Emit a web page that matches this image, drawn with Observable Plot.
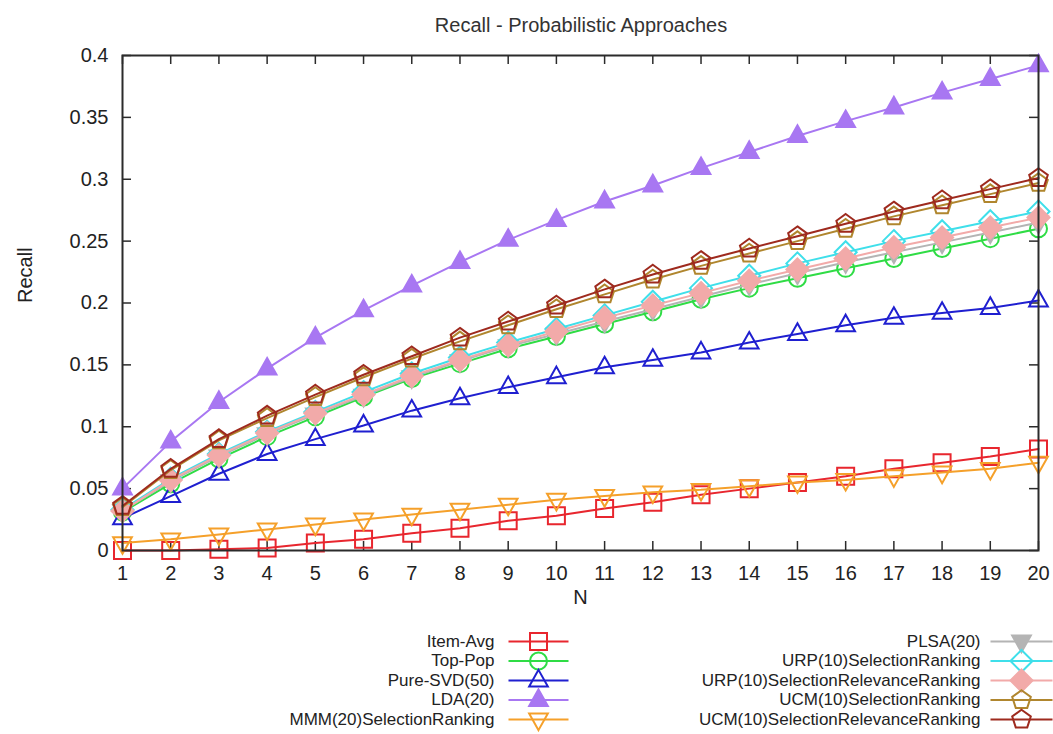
<!DOCTYPE html>
<html><head><meta charset="utf-8">
<script src="https://cdn.jsdelivr.net/npm/d3@7"></script>
<script src="https://cdn.jsdelivr.net/npm/@observablehq/plot@0.6"></script>
<style>
body{margin:0;background:#fff;font-family:"Liberation Sans",Arial,Helvetica,sans-serif;}
#wrap{position:relative;width:1053px;height:734px;overflow:hidden;background:#fff;}
#title{position:absolute;left:0;top:13px;width:1053px;box-sizing:border-box;padding-left:109px;text-align:center;font-size:20px;line-height:24px;color:#333;}
#main{position:absolute;left:0;top:45px;}
#legend{position:absolute;left:0;top:615px;}
</style></head><body>
<div id="wrap"><div id="title">Recall - Probabilistic Approaches</div><div id="main"></div><div id="legend"></div></div>
<script>
// ---- data ----
const N = [1,2,3,4,5,6,7,8,9,10,11,12,13,14,15,16,17,18,19,20];
const yTicks = [0,0.05,0.1,0.15,0.2,0.25,0.3,0.35,0.4];
const seriesNames = ["Item-Avg","Top-Pop","Pure-SVD(50)","LDA(20)","MMM(20)SelectionRanking","PLSA(20)","URP(10)SelectionRanking","URP(10)SelectionRelevanceRanking","UCM(10)SelectionRanking","UCM(10)SelectionRelevanceRanking"];
const itemAvg = [0,0,0.001,0.002,0.006,0.009,0.014,0.018,0.024,0.028,0.034,0.039,0.045,0.05,0.055,0.06,0.066,0.071,0.076,0.082];
const topPop  = [0.031,0.054,0.074,0.092,0.108,0.124,0.139,0.151,0.163,0.173,0.183,0.193,0.203,0.212,0.22,0.228,0.236,0.244,0.252,0.26];
const pureSVD = [0.026,0.044,0.062,0.078,0.09,0.101,0.113,0.123,0.132,0.14,0.148,0.154,0.16,0.168,0.175,0.182,0.188,0.192,0.196,0.202];
const lda     = [0.05,0.088,0.12,0.147,0.172,0.194,0.214,0.233,0.251,0.267,0.282,0.295,0.309,0.322,0.335,0.347,0.358,0.37,0.381,0.392];
const mmm     = [0.006,0.009,0.013,0.017,0.021,0.025,0.029,0.033,0.037,0.041,0.044,0.047,0.049,0.052,0.055,0.057,0.06,0.063,0.066,0.071];
const plsa    = [0.032,0.056,0.076,0.094,0.11,0.125,0.14,0.153,0.165,0.175,0.185,0.195,0.205,0.215,0.224,0.233,0.241,0.249,0.257,0.265];
const urpSel  = [0.033,0.058,0.078,0.096,0.112,0.128,0.143,0.156,0.168,0.179,0.19,0.201,0.212,0.222,0.232,0.241,0.25,0.258,0.266,0.274];
const urpRel  = [0.032,0.057,0.077,0.095,0.111,0.126,0.141,0.154,0.166,0.177,0.188,0.198,0.208,0.218,0.227,0.236,0.245,0.253,0.261,0.269];
const ucmSel  = [0.035,0.065,0.089,0.107,0.124,0.14,0.155,0.169,0.182,0.195,0.207,0.219,0.23,0.24,0.25,0.26,0.27,0.279,0.288,0.297];
const ucmRel  = [0.036,0.066,0.09,0.109,0.126,0.142,0.157,0.172,0.185,0.198,0.211,0.223,0.234,0.244,0.254,0.264,0.274,0.283,0.292,0.301];
const seriesValues = [itemAvg, topPop, pureSVD, lda, mmm, plsa, urpSel, urpRel, ucmSel, ucmRel];

// ---- styles ----
function poly(pts){ return {draw(ctx,size){ const r=Math.sqrt(size/Math.PI); pts.forEach(([px,py],i)=> i?ctx.lineTo(px*r,py*r):ctx.moveTo(px*r,py*r)); ctx.closePath(); }}; }
const SYM = {
  square: poly([[-1,-1],[1,-1],[1,1],[-1,1]]),
  circle: {draw(ctx,size){ const r=Math.sqrt(size/Math.PI); ctx.moveTo(r,0); ctx.arc(0,0,r,0,2*Math.PI); }},
  tri: poly([[0,-1.25],[1.1,0.7],[-1.1,0.7]]),
  triDown: poly([[0,1.25],[1.1,-0.7],[-1.1,-0.7]]),
  diamond: poly([[0,-1.3],[1.3,0],[0,1.3],[-1.3,0]]),
  pentagon: poly(d3.range(5).map(i=>{const a=-Math.PI/2+i*2*Math.PI/5; return [1.15*Math.cos(a),1.15*Math.sin(a)];}))
};
const styles = [
  {color:"#e8262e", sym:"square",  fill:false},
  {color:"#2fdc45", sym:"circle",  fill:false},
  {color:"#1f1fd0", sym:"tri",     fill:false},
  {color:"#a877f2", sym:"tri",     fill:true},
  {color:"#f5a02a", sym:"triDown", fill:false},
  {color:"#b4b4b4", sym:"triDown", fill:true},
  {color:"#3fdfea", sym:"diamond", fill:false},
  {color:"#f2aaa9", sym:"diamond", fill:true},
  {color:"#b0862e", sym:"pentagon",fill:false},
  {color:"#9e2a1e", sym:"pentagon",fill:false}
];

// ---- main chart ----
const W=1053, H=570, mT=10, mB=65, mL=122, mR=15, tick=9;
const fh=H-mT-mB, fw=W-mL-mR;
const axisColor="#2b2b2b";
const marks = [
  Plot.ruleX(N,{x:d=>d, insetTop:fh-tick, stroke:axisColor, strokeWidth:1.5}),
  Plot.ruleX(N,{x:d=>d, insetBottom:fh-tick, stroke:axisColor, strokeWidth:1.5}),
  Plot.ruleY(yTicks,{y:d=>d, insetRight:fw-tick, stroke:axisColor, strokeWidth:1.5}),
  Plot.ruleY(yTicks,{y:d=>d, insetLeft:fw-tick, stroke:axisColor, strokeWidth:1.5}),
  Plot.axisX(N,{tickSize:0, tickPadding:15, tickFormat:d=>String(d), label:null, fill:"#222"}),
  Plot.axisY(yTicks,{tickSize:0, tickPadding:14, tickFormat:d=>String(+d.toFixed(2)), label:null, fill:"#222"}),
  Plot.text(["Recall"],{frameAnchor:"left", dx:-97, rotate:-90, text:d=>d, fill:"#222"}),
  Plot.text(["N"],{frameAnchor:"bottom", dy:53, text:d=>d, fill:"#222"})
];
seriesValues.forEach((vals,si)=>{
  const st=styles[si];
  const rows=N.map((n,i)=>({n, v:vals[i]}));
  marks.push(Plot.line(rows,{x:"n", y:"v", stroke:st.color, strokeWidth:2}));
  marks.push(Plot.dot(rows,{x:"n", y:"v", symbol:SYM[st.sym], r:8.5, stroke:st.color, fill:st.fill?st.color:"none", strokeWidth:2}));
});
marks.push(Plot.frame({stroke:axisColor, strokeWidth:2}));

const chart = Plot.plot({
  width:W, height:H, marginTop:mT, marginBottom:mB, marginLeft:mL, marginRight:mR,
  x:{domain:[1,20], axis:null},
  y:{domain:[0,0.4], axis:null},
  style:{fontSize:"20px", fontFamily:"'Liberation Sans', Arial, Helvetica, sans-serif", background:"#fff", color:"#222"},
  marks
});
document.getElementById("main").appendChild(chart);

// ---- legend ----
const LH=119, rowY0=26, rowStep=19.5;
const cols=[{textEnd:494, x1:508, x2:568},{textEnd:980, x1:990, x2:1052}];
const leg=seriesNames.map((name,i)=>({name, i, col:i<5?0:1, row:i%5}));
const lx=d=>cols[d.col];
const ly=d=>rowY0+d.row*rowStep;
const legMarks=[
  Plot.text(leg,{x:d=>lx(d).textEnd, y:ly, text:"name", textAnchor:"end", fill:"#222"}),
  Plot.link(leg,{x1:d=>lx(d).x1, x2:d=>lx(d).x2, y1:ly, y2:ly, stroke:d=>styles[d.i].color, strokeWidth:2})
];
leg.forEach(d=>{
  const st=styles[d.i];
  legMarks.push(Plot.dot([d],{x:e=>(lx(e).x1+lx(e).x2)/2, y:ly, symbol:SYM[st.sym], r:8.5, stroke:st.color, fill:st.fill?st.color:"none", strokeWidth:2}));
});
const legend = Plot.plot({
  width:W, height:LH, margin:0,
  x:{type:"identity", axis:null}, y:{type:"identity", axis:null},
  stroke:{type:"identity"},
  style:{fontSize:"17px", fontFamily:"'Liberation Sans', Arial, Helvetica, sans-serif", background:"#fff", color:"#222"},
  marks:legMarks
});
document.getElementById("legend").appendChild(legend);
</script>
</body></html>
